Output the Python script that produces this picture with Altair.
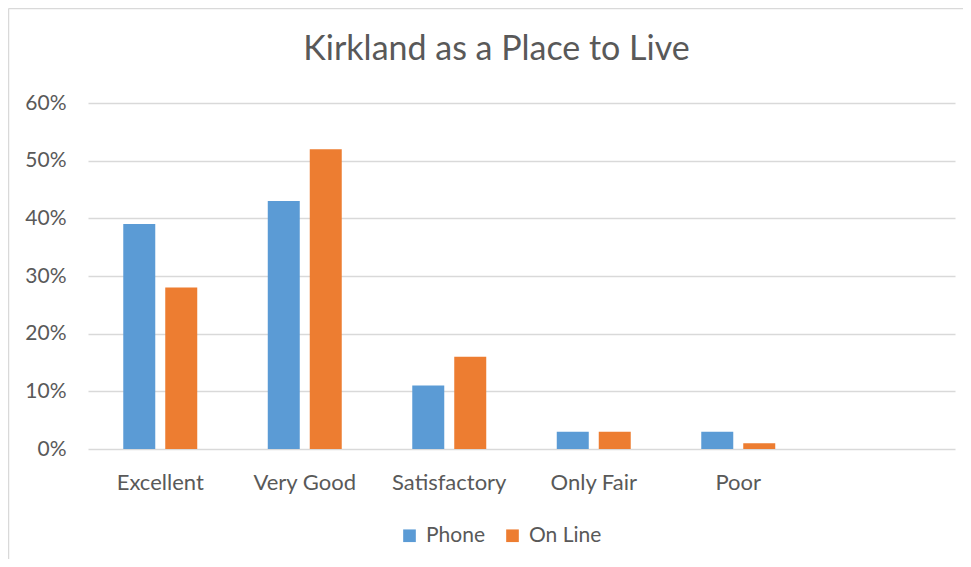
import altair as alt
import pandas as pd

categories = ["Excellent", "Very Good", "Satisfactory", "Only Fair", "Poor"]
series = ["Phone", "On Line"]
phone = [0.39, 0.43, 0.11, 0.03, 0.03]
online = [0.28, 0.52, 0.16, 0.03, 0.01]
colors = ["#5B9BD5", "#ED7D31"]
title_text = "Kirkland as a Place to Live"

rows = []
for c, p, o in zip(categories, phone, online):
    rows.append({"category": c, "series": "Phone", "value": p})
    rows.append({"category": c, "series": "On Line", "value": o})
df = pd.DataFrame(rows)

FONT = "Lato"
TXT = "#595959"

bars = alt.Chart(df).mark_bar().encode(
    x=alt.X("category:N", sort=categories,
            scale=alt.Scale(domain=categories, paddingInner=0.488, paddingOuter=0.744, align=0.164),
            axis=alt.Axis(title=None, labelAngle=0, ticks=False, domain=False,
                          labelFont=FONT, labelFontSize=22, labelColor=TXT, labelPadding=23)),
    xOffset=alt.XOffset("series:N", sort=series,
                        scale=alt.Scale(domain=series, paddingInner=0.238, paddingOuter=0)),
    y=alt.Y("value:Q",
            scale=alt.Scale(domain=[0, 0.6]),
            axis=alt.Axis(title=None, format=".0%", values=[0, 0.1, 0.2, 0.3, 0.4, 0.5, 0.6],
                          ticks=False, domain=False, labelFont=FONT, labelFontSize=21,
                          labelColor=TXT, labelPadding=22, gridColor="#D9D9D9", gridWidth=1.3)),
    color=alt.Color("series:N", sort=series,
                    scale=alt.Scale(domain=series, range=colors),
                    legend=alt.Legend(title=None, orient="none", direction="horizontal",
                                      legendX=311, legendY=422, symbolType="square",
                                      symbolSize=160, symbolStrokeWidth=0,
                                      labelFont=FONT, labelFontSize=21, labelColor=TXT,
                                      labelOffset=6, columnPadding=17)),
)

border_df = pd.DataFrame({"k": [0]})
left_border = alt.Chart(border_df).mark_rule(color="#D9D9D9", strokeWidth=1.5).encode(
    x=alt.value(-79.5), y=alt.value(-94.5), y2=alt.value(500))
top_border = alt.Chart(border_df).mark_rule(color="#D9D9D9", strokeWidth=1.5).encode(
    x=alt.value(-79.5), x2=alt.value(900), y=alt.value(-94.5))

chart = alt.layer(bars, left_border, top_border).properties(
    width=867, height=346,
    autosize=alt.AutoSizeParams(type="none"),
    padding={"left": 80, "top": 95, "right": 8, "bottom": 110},
    title=alt.TitleParams(title_text, font=FONT, fontSize=34, fontWeight="normal",
                          color=TXT, anchor="middle", dx=-25, offset=-86,
                          baseline="alphabetic"),
).configure_view(stroke=None)

chart.save("out.html", embed_options={"renderer": "svg", "actions": False})
